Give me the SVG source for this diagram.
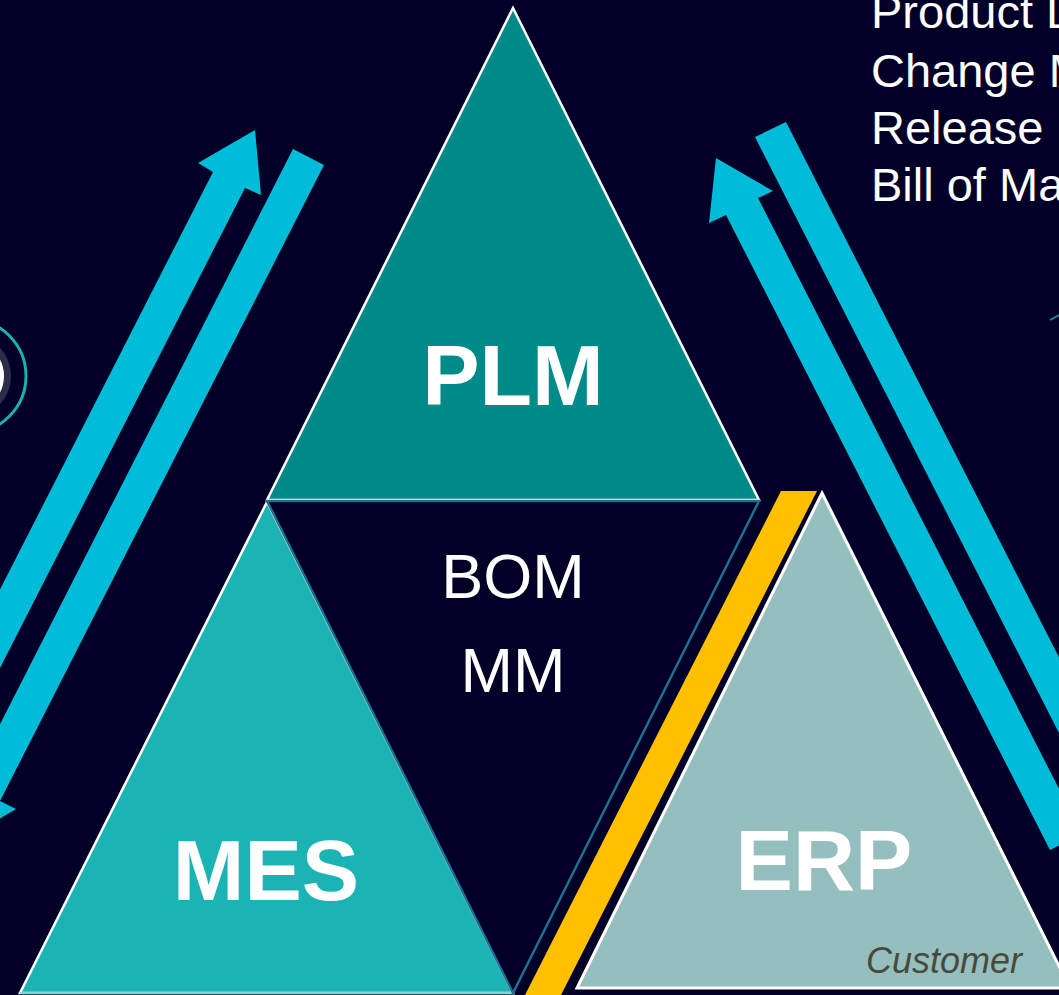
<svg xmlns="http://www.w3.org/2000/svg" width="1059" height="995" viewBox="0 0 1059 995">
  <style>
    .big { font-family: "Liberation Sans", Arial, sans-serif; font-weight: bold; font-size: 86px; fill: #ffffff; text-anchor: middle; }
    .mid { font-family: "Liberation Sans", Arial, sans-serif; font-size: 63px; fill: #ffffff; text-anchor: middle; }
    .list { font-family: "Liberation Sans", Arial, sans-serif; font-size: 47px; fill: #ffffff; }
    .arrow { fill: #00bcd9; }
  </style>
  <rect x="0" y="0" width="1059" height="995" fill="#020027"/>

  <!-- partial icon at left edge -->
  <g id="icon-left">
    <circle cx="-31" cy="376" r="57" fill="none" stroke="#19b3aa" stroke-width="3"/>
    <circle cx="-31" cy="376" r="38.5" fill="#ffffff" stroke="#2c2c4c" stroke-width="7"/>
  </g>
  <line x1="1050" y1="320" x2="1059" y2="315" stroke="#1a8c8c" stroke-width="2"/>

  <g id="connectors">
    <polygon class="arrow" points="255,130 261,195 245,188 -47,760 -87,760 213,172 198,163"/>
    <polygon class="arrow" points="293,149 324,165 0,801 16,809 -40,842 -46,777 -31,785"/>
    <polygon class="arrow" points="716,158 773,191 758,198 1082,834 1050,850 726,215 709,223"/>
    <polygon class="arrow" points="755,137 786,122 1143,822 1112,837"/>
  </g>

  <g id="plm">
    <polygon points="513,8 759,500 267,500" fill="#008b89" stroke="#ffffff" stroke-width="2.5" stroke-linejoin="miter"/>
    <text class="big" x="513" y="405">PLM</text>
  </g>

  <g id="mes">
    <polygon points="267,502 513,993 20,993" fill="#1cb3b4" stroke="#ffffff" stroke-width="2.5"/>
    <line x1="20" y1="993" x2="513" y2="993" stroke="#7fd4d6" stroke-width="2"/>
    <text class="big" x="266" y="900">MES</text>
  </g>

  <g id="bom">
    <polygon points="267,501 759,501 513,993" fill="#020027" stroke="#1f6f92" stroke-width="2.5"/>
    <text class="mid" x="513" y="598">BOM</text>
    <text class="mid" x="513" y="692">MM</text>
  </g>

  <polygon id="divider" points="781,491 817,491 561,995 525,995" fill="#ffc000"/>

  <g id="erp">
    <polygon points="822,493 1070,988 577,988" fill="#95bfbe" stroke="#ffffff" stroke-width="3"/>
    <text class="big" x="824" y="890">ERP</text>
    <text x="944" y="973" font-family="Liberation Sans, Arial, sans-serif" font-style="italic" font-size="36" fill="#4a4a3c" text-anchor="middle">Customer</text>
  </g>

  <g id="plm-functions">
    <text class="list" x="871" y="28">Product Data Management</text>
    <text class="list" x="871" y="87">Change Management</text>
    <text class="list" x="871" y="144">Release Management</text>
    <text class="list" x="871" y="201">Bill of Materials</text>
  </g>
</svg>
